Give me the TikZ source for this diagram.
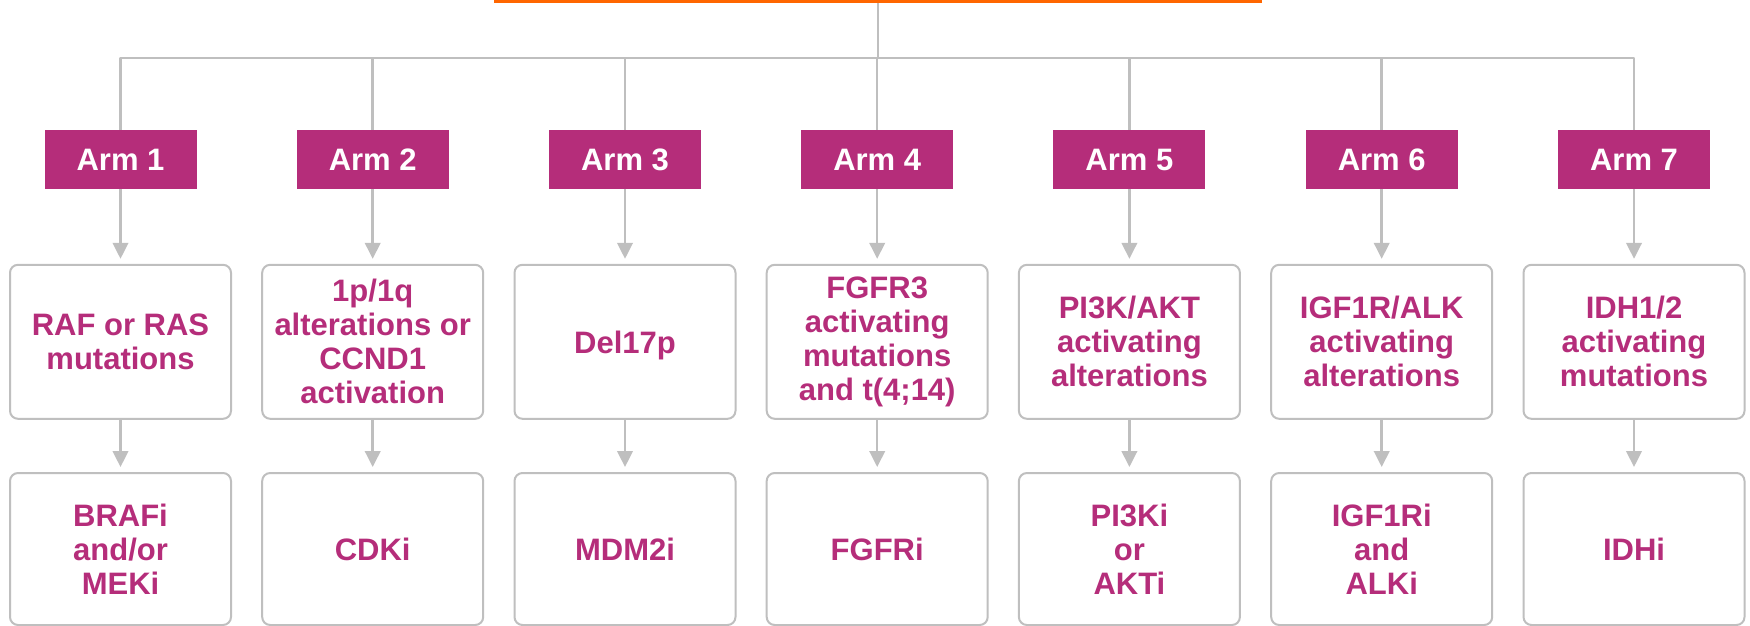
\documentclass[tikz,border=0pt]{standalone}
\usepackage{fontspec}
\setmainfont{Liberation Sans}
\usetikzlibrary{arrows.meta}
\definecolor{mag}{HTML}{B52D7A}
\definecolor{lgray}{HTML}{BFBFBF}
\definecolor{org}{HTML}{FF6600}
\tikzset{
  conn/.style={draw=lgray, line width=2.5pt},
  arr/.style={conn, -{Triangle[length=16pt, width=15.5pt]}, shorten >=5pt},
  armbox/.style={fill=mag, text=white, inner sep=0pt, minimum width=152pt, minimum height=59pt,
    font=\fontsize{31}{34}\selectfont\bfseries},
  txtbox/.style={draw=lgray, line width=2pt, rounded corners=8pt, fill=white, text=mag,
    inner sep=0pt, minimum width=221pt, align=center,
    font=\fontsize{31}{34}\selectfont\bfseries},
  midbox/.style={txtbox, minimum height=154pt},
  botbox/.style={txtbox, minimum height=152pt},
  obar/.style={fill=org, inner sep=0pt, minimum width=768pt, minimum height=3pt}
}
\begin{document}
\begin{tikzpicture}[x=1pt, y=-1pt]
\useasboundingbox (0,0) rectangle (1750,626);
\node[obar] (bar) at (878,1.5) {};
\foreach \i/\x in {1/120.5, 2/372.7, 3/625, 4/877.2, 5/1129.4, 6/1381.7, 7/1634}{
  \coordinate (h\i) at (\x,58);
  \node[armbox] (arm\i) at (\x,159.5) {Arm \i};
}
\node[midbox] (mid1) at (120.5,341.8) {RAF or RAS\\mutations};
\node[midbox] (mid2) at (372.7,341.8) {1p/1q\\alterations or\\CCND1\\activation};
\node[midbox, text depth=0pt] (mid3) at (625,341.8) {Del17p};
\node[midbox] (mid4) at (877.2,341.8) {FGFR3\\activating\\mutations\\and t(4;14)};
\node[midbox] (mid5) at (1129.4,341.8) {PI3K/AKT\\activating\\alterations};
\node[midbox] (mid6) at (1381.7,341.8) {IGF1R/ALK\\activating\\alterations};
\node[midbox] (mid7) at (1634,341.8) {IDH1/2\\activating\\mutations};
\node[botbox] (bot1) at (120.5,549) {BRAFi\\and/or\\MEKi};
\node[botbox] (bot2) at (372.7,549) {CDKi};
\node[botbox] (bot3) at (625,549) {MDM2i};
\node[botbox] (bot4) at (877.2,549) {FGFRi};
\node[botbox] (bot5) at (1129.4,549) {PI3Ki\\or\\AKTi};
\node[botbox] (bot6) at (1381.7,549) {IGF1Ri\\and\\ALKi};
\node[botbox] (bot7) at (1634,549) {IDHi};
\draw[conn] (bar.south) -- (bar.south |- h1);
\draw[conn, line join=round] (arm1.north) -- (h1) -- (h7) -- (arm7.north);
\foreach \i in {2,...,6}{
  \draw[conn] (h\i) -- (arm\i.north);
}
\foreach \i in {1,...,7}{
  \draw[arr] (arm\i.south) -- (mid\i.north);
  \draw[arr] (mid\i.south) -- (bot\i.north);
}
\end{tikzpicture}
\end{document}
